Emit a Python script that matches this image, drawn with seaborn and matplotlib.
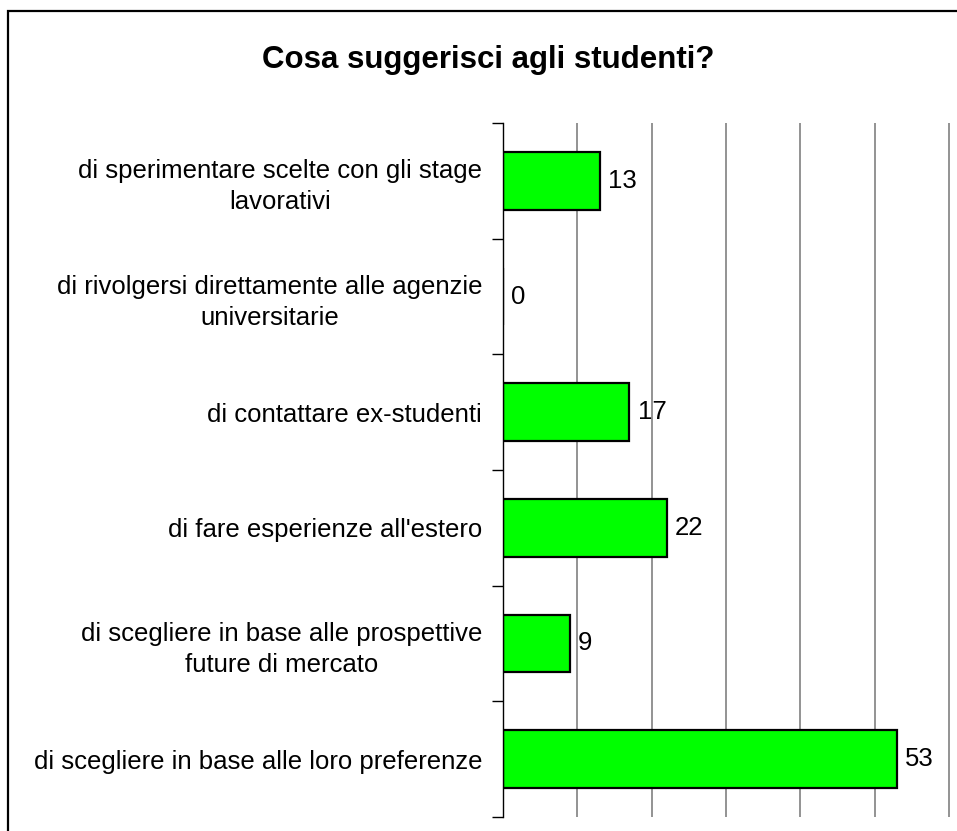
import matplotlib
matplotlib.use("Agg")
import matplotlib.pyplot as plt
import matplotlib.patches as patches
import seaborn as sns
import pandas as pd

# Dati del grafico
categorie = [
    "di sperimentare scelte con gli stage\nlavorativi",
    "di rivolgersi direttamente alle agenzie\nuniversitarie",
    "di contattare ex-studenti",
    "di fare esperienze all'estero",
    "di scegliere in base alle prospettive\nfuture di mercato",
    "di scegliere in base alle loro preferenze",
]
valori = [13, 0, 17, 22, 9, 53]
titolo = "Cosa suggerisci agli studenti?"

df = pd.DataFrame({"Categoria": categorie, "Valore": valori})

sns.set_theme(style="white")
plt.rcParams["font.family"] = ["Liberation Sans", "DejaVu Sans"]
plt.rcParams["text.color"] = "black"
plt.rcParams["ytick.color"] = "black"
plt.rcParams["ytick.labelcolor"] = "black"

W, H = 957, 831
fig = plt.figure(figsize=(W / 100, H / 100), dpi=100)
# asse esteso fino al bordo destro (60 cade a x=949)
ax = fig.add_axes([503 / W, 1 - 817 / H, (957 - 503) / W, (817 - 123) / H])

sns.barplot(
    data=df, x="Valore", y="Categoria", orient="h", ax=ax,
    color="#00FF00", edgecolor="black", linewidth=1.6, width=0.5, saturation=1,
)

# Etichette dei valori
ax.bar_label(ax.containers[0], padding=6, fontsize=18.5, color="black")

ax.set_xlim(0, 60 * (957 - 503) / (949 - 503))
ax.set_ylim(5.5, -0.5)
ax.set_xlabel("")
ax.set_ylabel("")
ax.set_xticks(range(0, 61, 10))
ax.set_xticklabels([])
ax.tick_params(axis="x", length=0)
ax.grid(axis="x", color="#808080", linewidth=1.2)
ax.grid(axis="y", visible=False)

# Tick della categoria ai confini
ax.set_yticks([i - 0.5 for i in range(len(categorie) + 1)], minor=True)
ax.tick_params(axis="y", which="minor", length=8, width=1, color="black", left=True)
ax.tick_params(axis="y", which="major", length=0, pad=15, labelsize=18.5)
for lab in ax.get_yticklabels():
    lab.set_multialignment("center")
    lab.set_linespacing(1.35)

for s in ["top", "right", "bottom"]:
    ax.spines[s].set_visible(False)
ax.spines["left"].set_color("black")
ax.spines["left"].set_linewidth(1)

fig.text(488 / W, 1 - 60 / H, titolo, ha="center", va="center",
         fontsize=22.5, fontweight="bold", color="black")

# Bordo esterno del grafico
fig.patches.append(patches.Rectangle(
    (8 / W, -0.1), 1.2, 1 - 11 / H + 0.1, transform=fig.transFigure,
    fill=False, edgecolor="black", linewidth=1.6, clip_on=False))

fig.savefig("out.png", dpi=100)
